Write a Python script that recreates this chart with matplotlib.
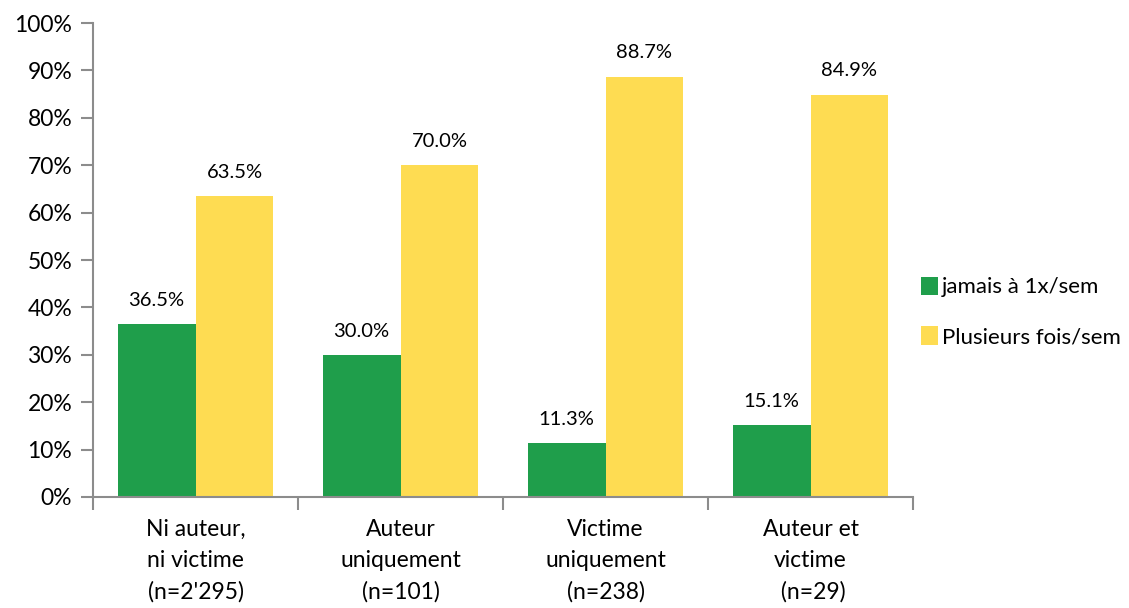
import numpy as np
import matplotlib.pyplot as plt
from matplotlib.ticker import FuncFormatter

categories = ["Ni auteur,\nni victime\n(n=2'295)", "Auteur\nuniquement\n(n=101)",
              "Victime\nuniquement\n(n=238)", "Auteur et\nvictime\n (n=29)"]
jamais = [36.5, 30.0, 11.3, 15.1]
plusieurs = [63.5, 70.0, 88.7, 84.9]
series_names = ['jamais à 1x/sem', 'Plusieurs fois/sem']

plt.rcParams['font.family'] = ['Lato', 'DejaVu Sans']
green = '#1f9e4b'
yellow = '#fedc52'
gray = '#8c8c8c'

fig = plt.figure(figsize=(11.29, 6.08), dpi=100)
ax = fig.add_axes([0.0824, 0.1826, 0.7263, 0.7794])

x = np.arange(len(categories))
w = 0.38
b1 = ax.bar(x - w/2, jamais, w, color=green, label=series_names[0])
b2 = ax.bar(x + w/2, plusieurs, w, color=yellow, label=series_names[1])

for rects in (b1, b2):
    for r in rects:
        ax.annotate('%.1f%%' % r.get_height(),
                    (r.get_x() + r.get_width()/2, r.get_height()),
                    xytext=(0, 11), textcoords='offset points',
                    ha='center', va='bottom', fontsize=14.5)

ax.set_xlim(-0.5, len(categories) - 0.5)
ax.set_ylim(0, 100)
ax.set_yticks(np.arange(0, 101, 10))
ax.yaxis.set_major_formatter(FuncFormatter(lambda v, p: '%d%%' % v))

# boundaries get tick marks, centres get the labels
ax.set_xticks(np.arange(len(categories) + 1) - 0.5)
ax.set_xticklabels([])
ax.set_xticks(x, minor=True)
ax.set_xticklabels(categories, minor=True, fontsize=16.5, linespacing=1.58)
ax.tick_params(axis='x', which='minor', length=0, pad=16)
ax.tick_params(axis='x', which='major', length=9, width=1.5, color=gray)
ax.tick_params(axis='y', length=9, width=1.5, color=gray, labelsize=16.5, pad=6)

for s in ['top', 'right']:
    ax.spines[s].set_visible(False)
for s in ['left', 'bottom']:
    ax.spines[s].set_color(gray)
    ax.spines[s].set_linewidth(1.5)

ax.legend(loc='center left', bbox_to_anchor=(0.808, 0.487), bbox_transform=fig.transFigure,
          frameon=False, fontsize=16, handlelength=0.75, handleheight=0.9,
          handletextpad=0.2, labelspacing=1.3, borderaxespad=0)

plt.savefig('out.png', dpi=100)
